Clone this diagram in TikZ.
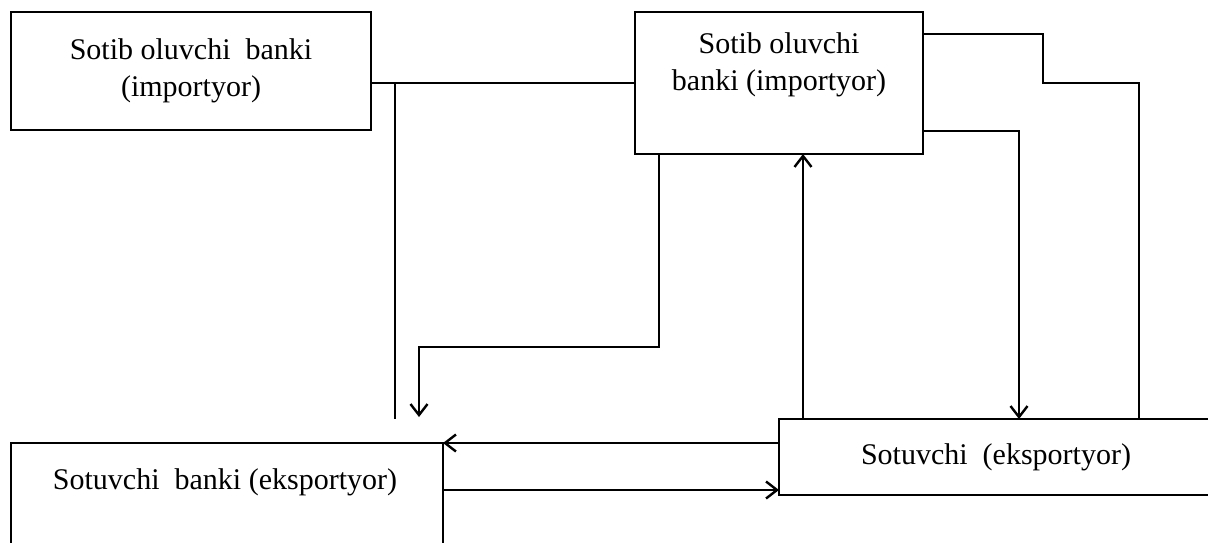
\documentclass[tikz,border=0pt]{standalone}
\usepackage{fontspec}
\setmainfont{Liberation Serif}
\usetikzlibrary{arrows.meta}
\begin{document}
\begin{tikzpicture}[x=1pt,y=-1pt,
  box/.style={draw,line width=2.4pt,inner sep=0pt,outer sep=0pt,rectangle,anchor=north west},
  lbl/.style={align=center,inner sep=0pt,font=\fontsize{30}{37}\selectfont},
  con/.style={line width=2.4pt},
  arr/.style={line width=2.4pt,-{Straight Barb[length=11pt,width=17pt,line width=2.4pt]}}]
\useasboundingbox (0,0) rectangle (1208,542);
\clip (0,0) rectangle (1208,542);
% boxes
\node[box,minimum width=360pt,minimum height=118pt] (A) at (11,12) {};
\node[box,minimum width=288pt,minimum height=142pt] (B) at (635,12) {};
\node[box,minimum width=432pt,minimum height=160pt] (C) at (11,443) {};
\node[box,minimum width=435pt,minimum height=76pt] (D) at (779,419) {};
% texts
\node[lbl] (tA) at (191,71) {Sotib\ oluvchi\ \ banki\\(importyor)};
\node[lbl] (tB) at (779,65) {Sotib\ oluvchi\\banki\ (importyor)};
\node[lbl] (tC) at (225,482) {Sotuvchi\ \ banki (eksportyor)};
\node[lbl] (tD) at (996,457) {Sotuvchi\ \ (eksportyor)};
% helper coordinates
\coordinate (j1) at (395,83);
\coordinate (e1) at (395,419);
\coordinate (k1) at (659,347);
\coordinate (k2) at (419,347);
\coordinate (e2) at (419,417);
\coordinate (m1) at (803,0);
\coordinate (n1) at (1019,131);
\coordinate (p1) at (923,34);
\coordinate (p2) at (1043,34);
\coordinate (p3) at (1043,83);
\coordinate (p4) at (1139,83);
\coordinate (q1) at (0,443);
\coordinate (q2) at (0,490);
% connectors
\draw[con] (A.east |- B.west) -- (B.west);
\draw[con] (j1) -- (e1);
\draw[arr] (B.south -| k1) -- (k1) -- (k2) -- (e2);
\draw[arr] (D.north -| m1) -- (B.south -| m1);
\draw[arr] (B.east |- n1) -- (n1) -- (D.north -| n1);
\draw[con] (p1) -- (p2) -- (p3) -- (p4) -- (D.north -| p4);
\draw[arr] (D.west |- q1) -- (C.north east);
\draw[arr] (C.east |- q2) -- (D.west |- q2);
\end{tikzpicture}
\end{document}
